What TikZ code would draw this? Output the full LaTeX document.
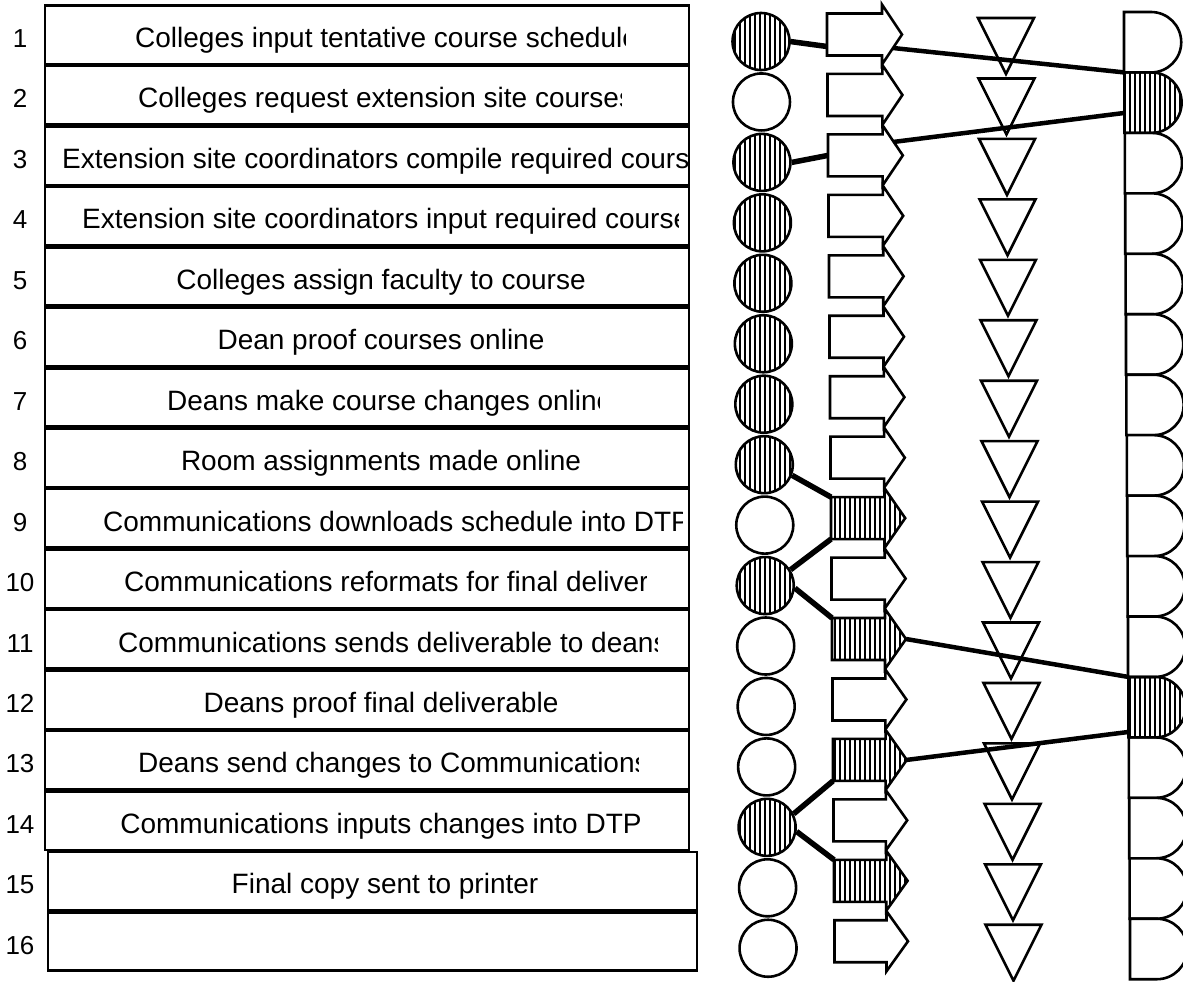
\documentclass[tikz,border=0pt]{standalone}
\usepackage{fontspec}
\setmainfont{Liberation Sans}
\usetikzlibrary{patterns.meta,calc}
\tikzset{
  rowbox/.style={draw,line width=2.3pt,inner sep=0pt,outer sep=0pt},
  rowtxt/.style={inner sep=0pt,font=\fontsize{28}{32}\selectfont},
  numtxt/.style={inner sep=0pt,anchor=base,font=\fontsize{26}{30}\selectfont},
  outl/.style={draw,line width=2.6pt,line join=miter},
  plain/.style={outl,fill=white},
  hatched/.style={outl,pattern={Lines[angle=90,distance=5pt,line width=1.3pt]}},
  opcirc/.style={circle,inner sep=0pt,minimum size=57pt},
  link/.style={line width=5.5pt},
  flow/.style={line width=4.5pt},
}
\newcommand\mkarrow[2]{%
  \pgfmathsetmacro\ay{34.5+60.45*(#1-1)}%
  \pgfmathsetmacro\al{827+0.5*(#1-1)}%
  \pgfmathsetmacro\ah{882+0.3*(#1-1)}%
  \pgfmathsetmacro\at{902+0.4*(#1-1)}%
  \draw[#2] (\al,\ay-21) -- (\ah,\ay-21) -- (\ah,\ay-30) -- (\at,\ay) -- (\ah,\ay+30) -- (\ah,\ay+21) -- (\al,\ay+21) -- cycle;
  \coordinate (a#1-w) at (\al,\ay);
  \coordinate (a#1-nw) at (\al,\ay-21);
  \coordinate (a#1-sw) at (\al,\ay+21);
  \coordinate (a#1-tip) at (\at,\ay);
  \coordinate (a#1-ud) at (\at-9,\ay-13.5);
  \coordinate (a#1-ld) at (\at-9,\ay+13.5);
}
\newcommand\mktri[1]{%
  \pgfmathsetmacro\ty{18+60.45*(#1-1)}%
  \pgfmathsetmacro\tx{1006+0.5*(#1-1)}%
  \draw[plain] (\tx-28,\ty) -- (\tx+28,\ty) -- (\tx,\ty+56) -- cycle;
}
\newcommand\mkdel[2]{%
  \pgfmathsetmacro\dt{12+60.45*(#1-1)}%
  \pgfmathsetmacro\dl{1124+0.4*(#1-1)}%
  \draw[#2] (\dl,\dt) -- (\dl+27,\dt) arc[start angle=-90,end angle=90,radius=30.225] -- (\dl,\dt+60.45) -- cycle;
  \coordinate (d#1-nw) at (\dl,\dt);
  \coordinate (d#1-sw) at (\dl,\dt+60.45);
}
\newcommand\mkcirc[2]{%
  \pgfmathsetmacro\ccy{41.5+60.45*(#1-1)}%
  \pgfmathsetmacro\ccx{761+0.47*(#1-1)}%
  \node[opcirc,#2] (c#1) at (\ccx,\ccy) {};
}
\begin{document}
\begin{tikzpicture}[x=1pt,y=-1pt]
\useasboundingbox (0,0) rectangle (1183,982);
\fill[white] (0,0) rectangle (1183,982);

% row boxes and numbers
\foreach \i in {1,...,16}{
  \pgfmathsetmacro\t{4.5+60.45*(\i-1)}
  \pgfmathsetmacro\l{\i>14 ? 48 : 45}
  \pgfmathsetmacro\r{\i>14 ? 697 : 689}
  \pgfmathsetmacro\w{\r-\l}
  \pgfmathsetmacro\mx{(\l+\r)/2}
  \node[rowbox,minimum width=\w pt,minimum height=58.15pt] (box\i) at (\mx,\t+30.225) {};
  \node[numtxt] (n\i) at (20,\t+43) {\i};
}

% centred texts
\foreach \i/\txt in {5/{Colleges assign faculty to course},6/{Dean proof courses online},8/{Room assignments made online},12/{Deans proof final deliverable},14/{Communications inputs changes into DTP},15/{Final copy sent to printer}}{
  \pgfmathsetmacro\t{4.5+60.45*(\i-1)}
  \pgfmathsetmacro\xc{\i>14 ? 385 : 381}
  \node[rowtxt,anchor=base] (t\i) at (\xc,\t+43) {\txt};
}

% clipped texts
\foreach \i/\txt/\xs/\xc in {1/{Colleges input tentative course schedule}/135/625,2/{Colleges request extension site courses}/138/621,3/{Extension site coordinators compile required courses}/62/688,4/{Extension site coordinators input required courses}/82/678,7/{Deans make course changes online}/167/599,9/{Communications downloads schedule into DTP}/103/682,10/{Communications reformats for final deliverable}/124/646,11/{Communications sends deliverable to deans}/118/657,13/{Deans send changes to Communications}/138/638}{
  \pgfmathsetmacro\t{4.5+60.45*(\i-1)}
  \begin{scope}
    \clip (45,\t) rectangle (\xc,\t+60.45);
    \node[rowtxt,anchor=base west] (t\i) at (\xs,\t+43) {\txt};
  \end{scope}
}

% operation circles
\foreach \i in {2,9,11,12,13,15,16}{\mkcirc{\i}{plain}}
\foreach \i in {1,3,4,5,6,7,8,10,14}{\mkcirc{\i}{hatched}}
% transport arrows
\foreach \i in {1,2,3,4,5,6,7,8,10,12,14,16}{\mkarrow{\i}{plain}}
\foreach \i in {9,11,13,15}{\mkarrow{\i}{hatched}}
% storage triangles
\foreach \i in {1,...,16}{\mktri{\i}}
% delays
\foreach \i in {1,3,4,5,6,7,8,9,10,11,13,14,15,16}{\mkdel{\i}{plain}}
\foreach \i in {2,12}{\mkdel{\i}{hatched}}

% connectors
\draw[link] (c1.east) -- ($(a1-w)+(0,12)$);
\draw[flow] (a1-ld) -- (d2-nw);
\draw[link] (c3.east) -- (a3-w);
\draw[flow] (a3-ud) -- ($(d2-nw)!0.67!(d2-sw)$);
\draw[link] (c8.-21) -- (a9-nw);
\draw[link] (a9-sw) -- (c10.32);
\draw[link] (c10.-5) -- (a11-nw);
\draw[flow] (a11-tip) -- (d12-nw);
\draw[flow] (a13-tip) -- ($(d12-nw)!0.91!(d12-sw)$);
\draw[link] (c14.27) -- (a13-sw);
\draw[link] (c14.-8) -- (a15-nw);
\end{tikzpicture}
\end{document}
